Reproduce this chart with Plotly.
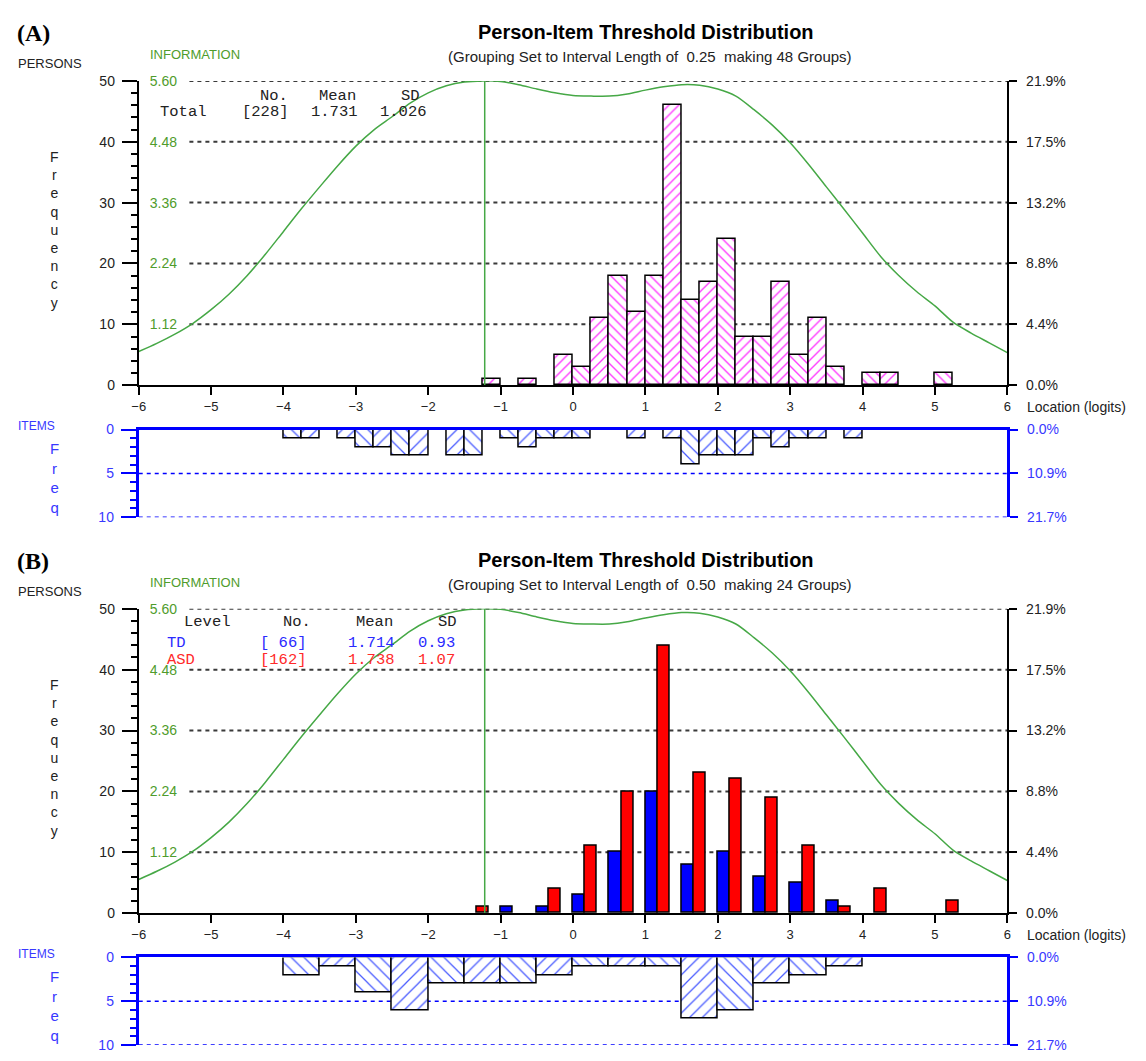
import plotly.graph_objects as go

W, H = 1146, 1061
B_SHIFT = 536  # vertical offset (px) of panel B below panel A

# ---------------- data ----------------
logit_ticks = list(range(-6, 7))
freq_ticks = [0, 10, 20, 30, 40, 50]
info_ticks = [1.12, 2.24, 3.36, 4.48, 5.60]
item_ticks = [0, 5, 10]
total_persons = 228
total_items = 46

# Test information function (logit, information)
info_logits = [-6.0, -5.75, -5.5, -5.25, -5.0, -4.75, -4.5, -4.25, -4.0, -3.75, -3.5, -3.25,
               -3.0, -2.75, -2.5, -2.25, -2.0, -1.75, -1.5, -1.25, -1.0, -0.75, -0.5, -0.25,
               0.0, 0.25, 0.5, 0.75, 1.0, 1.25, 1.5, 1.75, 2.0, 2.25, 2.5, 2.75, 3.0, 3.25,
               3.5, 3.75, 4.0, 4.25, 4.5, 4.75, 5.0, 5.25, 5.5, 5.75, 6.0]
info_values = [0.62, 0.77, 0.94, 1.14, 1.39, 1.68, 2.02, 2.41, 2.83, 3.25, 3.65, 4.04,
               4.40, 4.70, 4.94, 5.19, 5.38, 5.51, 5.58, 5.60, 5.59, 5.53, 5.45, 5.38,
               5.33, 5.32, 5.32, 5.36, 5.43, 5.49, 5.53, 5.52, 5.45, 5.32, 5.07, 4.79,
               4.46, 4.07, 3.65, 3.23, 2.80, 2.37, 2.02, 1.72, 1.46, 1.16, 0.96, 0.78, 0.60]
info_peak_logit = -1.22
info_max = 5.60

# Panel A: interval 0.25 (lower bin edges and counts)
a_bin_width = 0.25
a_person_bins = [-1.25, -0.75, -0.25, 0.0, 0.25, 0.5, 0.75, 1.0, 1.25, 1.5, 1.75, 2.0,
                 2.25, 2.5, 2.75, 3.0, 3.25, 3.5, 4.0, 4.25, 5.0]
a_person_counts = [1, 1, 5, 3, 11, 18, 12, 18, 46, 14, 17, 24,
                   8, 8, 17, 5, 11, 3, 2, 2, 2]
a_item_bins = [-4.0, -3.75, -3.25, -3.0, -2.75, -2.5, -2.25, -1.75, -1.5, -1.0, -0.75, -0.5,
               -0.25, 0.0, 0.75, 1.25, 1.5, 1.75, 2.0, 2.25, 2.5, 2.75, 3.0, 3.25, 3.75]
a_item_counts = [1, 1, 1, 2, 2, 3, 3, 3, 3, 1, 2, 1,
                 1, 1, 1, 1, 4, 3, 3, 3, 1, 2, 1, 1, 1]

# Panel B: interval 0.50, split by group
b_bin_width = 0.5
b_person_bins = [-1.5, -1.0, -0.5, 0.0, 0.5, 1.0, 1.5, 2.0, 2.5, 3.0, 3.5, 4.0, 4.5, 5.0]
b_td_counts = [0, 1, 1, 3, 10, 20, 8, 10, 6, 5, 2, 0, 0, 0]
b_asd_counts = [1, 0, 4, 11, 20, 44, 23, 22, 19, 11, 1, 4, 0, 2]
b_item_bins = [-4.0, -3.5, -3.0, -2.5, -2.0, -1.5, -1.0, -0.5, 0.0, 0.5, 1.0, 1.5,
               2.0, 2.5, 3.0, 3.5]
b_item_counts = [2, 1, 4, 6, 3, 3, 3, 2, 1, 1, 1, 7, 6, 3, 2, 1]

# ---------------- styling ----------------
FONT = "Liberation Sans, Arial, sans-serif"
MONO = "Liberation Mono, Courier New, monospace"
SERIF = "Liberation Serif, Times New Roman, serif"
INK = "#222222"
GREEN_LINE = "#46a846"
GREEN_TEXT = "#4f9c2c"
BLUE = "#0000ff"
BLUE_TEXT = "#3838ff"
MAGENTA = "#ff3cff"
RED = "#ff0000"


def px_x(x):
    return x / W


def px_y(y):
    return 1 - y / H


def ax(kind, i):
    return f"{kind}axis" + ("" if i == 1 else str(i))


def ref(kind, i):
    return kind + ("" if i == 1 else str(i))


def pct_labels(ticks, total):
    return [f"{100 * t / total:.1f}%" for t in ticks]


def hatch(bins, bw):
    return ["\\" if round((b + 6) / bw) % 2 == 0 else "/" for b in bins]


x_dom = [px_x(133), px_x(1010)]
grid_start = -5.3
tickfont = dict(family=FONT, size=13, color=INK)

layout_axes = {}
shapes = []
traces = []


def build_panel(xm, xi, yf, yp, yinfo, yi, yip, dy):
    main_dom = [px_y(383 + dy), px_y(74 + dy)]
    item_dom = [px_y(517 + dy), px_y(428 + dy)]
    layout_axes[ax("x", xm)] = dict(
        domain=x_dom, anchor=ref("y", yf), range=[-6, 6], tickmode="array",
        tickvals=logit_ticks, ticks="outside", ticklen=8, tickwidth=1.5, tickcolor="black",
        showline=True, linecolor="black", linewidth=2, showgrid=False, zeroline=False,
        tickfont=tickfont, ticklabeloverflow="allow")
    layout_axes[ax("y", yf)] = dict(
        domain=main_dom, anchor=ref("x", xm), range=[0, 50], tickmode="linear", tick0=0,
        dtick=10, ticks="outside", ticklen=15, tickwidth=2, tickcolor="black",
        showline=True, linecolor="black", linewidth=2, showgrid=False, zeroline=False,
        minor=dict(ticks="outside", ticklen=6, tickwidth=1.5, tickcolor="black",
                   tickmode="linear", tick0=0, dtick=2, showgrid=False),
        tickfont=dict(family=FONT, size=14, color=INK), ticklabelstandoff=4,
        ticklabeloverflow="allow")
    layout_axes[ax("y", yp)] = dict(
        overlaying=ref("y", yf), anchor=ref("x", xm), side="right", range=[0, 50],
        tickmode="array", tickvals=freq_ticks, ticktext=pct_labels(freq_ticks, total_persons),
        ticks="outside", ticklen=8, tickwidth=1.5, tickcolor="black", showline=True,
        linecolor="black", linewidth=2, showgrid=False, zeroline=False,
        tickfont=dict(family=FONT, size=14, color=INK), ticklabelstandoff=6,
        ticklabeloverflow="allow")
    layout_axes[ax("y", yinfo)] = dict(
        overlaying=ref("y", yf), anchor=ref("x", xm), side="left", range=[0, info_max],
        tickmode="array", tickvals=info_ticks, ticktext=[f"{v:.2f}" for v in info_ticks],
        ticks="", ticklabelposition="inside", showline=False, showgrid=False, zeroline=False,
        tickfont=dict(family=FONT, size=14, color=GREEN_TEXT), ticklabelstandoff=8,
        ticklabeloverflow="allow")
    layout_axes[ax("x", xi)] = dict(
        domain=x_dom, anchor=ref("y", yi), range=[-6, 6], side="top", showline=True,
        linecolor=BLUE, linewidth=3, ticks="", showticklabels=False, showgrid=False,
        zeroline=False)
    layout_axes[ax("y", yi)] = dict(
        domain=item_dom, anchor=ref("x", xi), range=[10, 0], tickmode="linear", tick0=0,
        dtick=5, ticks="outside", ticklen=15, tickwidth=2, tickcolor=BLUE, showline=True,
        linecolor=BLUE, linewidth=3, showgrid=False, zeroline=False,
        minor=dict(ticks="outside", ticklen=6, tickwidth=1.5, tickcolor=BLUE,
                   tickmode="linear", tick0=0, dtick=1, showgrid=False),
        tickfont=dict(family=FONT, size=14, color=BLUE_TEXT), ticklabelstandoff=4,
        ticklabeloverflow="allow")
    layout_axes[ax("y", yip)] = dict(
        overlaying=ref("y", yi), anchor=ref("x", xi), side="right", range=[10, 0],
        tickmode="array", tickvals=item_ticks, ticktext=pct_labels(item_ticks, total_items),
        ticks="outside", ticklen=8, tickwidth=2, tickcolor=BLUE, showline=True,
        linecolor=BLUE, linewidth=3, showgrid=False, zeroline=False,
        tickfont=dict(family=FONT, size=14, color=BLUE_TEXT), ticklabelstandoff=6,
        ticklabeloverflow="allow")

    # dashed frequency gridlines, starting right of the information labels
    for lvl in freq_ticks[1:]:
        shapes.append(dict(type="line", xref=ref("x", xm), yref=ref("y", yf),
                           x0=grid_start, x1=6, y0=lvl, y1=lvl, layer="below",
                           line=dict(color="#3a3a3a", width=2, dash="4px,4px")))
    # dashed item gridlines
    for lvl in item_ticks[1:]:
        shapes.append(dict(type="line", xref=ref("x", xi), yref=ref("y", yi),
                           x0=-6, x1=6, y0=lvl, y1=lvl, layer="below",
                           line=dict(color=BLUE, width=1.5, dash="4px,4px")))

    # information curve and its maximum
    traces.append(go.Scatter(x=info_logits, y=info_values, mode="lines",
                             line=dict(color=GREEN_LINE, width=1.5, shape="spline", smoothing=0.8),
                             xaxis=ref("x", xm), yaxis=ref("y", yinfo), hoverinfo="skip"))
    traces.append(go.Scatter(x=[info_peak_logit, info_peak_logit], y=[0, info_max], mode="lines",
                             line=dict(color=GREEN_LINE, width=1.5),
                             xaxis=ref("x", xm), yaxis=ref("y", yinfo), hoverinfo="skip"))
    # keep the percentage axes attached to their subplots
    traces.append(go.Scatter(x=[], y=[], xaxis=ref("x", xm), yaxis=ref("y", yp)))
    traces.append(go.Scatter(x=[], y=[], xaxis=ref("x", xi), yaxis=ref("y", yip)))


def item_bars(bins, counts, bw, xi, yi):
    traces.append(go.Bar(
        x=[b + bw / 2 for b in bins], y=counts, width=bw,
        xaxis=ref("x", xi), yaxis=ref("y", yi),
        marker=dict(color="white", line=dict(color="black", width=1.5),
                    pattern=dict(shape=hatch(bins, bw), fgcolor="#4a5cff", bgcolor="white",
                                 size=9, solidity=0.14, fillmode="replace"))))


# ---- Panel A ----
build_panel(1, 2, 1, 2, 3, 4, 5, 0)
traces.append(go.Bar(
    x=[b + a_bin_width / 2 for b in a_person_bins], y=a_person_counts, width=a_bin_width,
    xaxis="x", yaxis="y",
    marker=dict(color="white", line=dict(color="black", width=1.5),
                pattern=dict(shape=hatch(a_person_bins, a_bin_width), fgcolor=MAGENTA,
                             bgcolor="white", size=7, solidity=0.2, fillmode="replace"))))
item_bars(a_item_bins, a_item_counts, a_bin_width, 2, 4)

# ---- Panel B ----
build_panel(3, 4, 6, 7, 8, 9, 10, B_SHIFT)
td_bins = [b for b, c in zip(b_person_bins, b_td_counts) if c > 0]
td_vals = [c for c in b_td_counts if c > 0]
asd_bins = [b for b, c in zip(b_person_bins, b_asd_counts) if c > 0]
asd_vals = [c for c in b_asd_counts if c > 0]
traces.append(go.Bar(x=[b + b_bin_width / 6 for b in td_bins], y=td_vals, width=b_bin_width / 3,
                     xaxis="x3", yaxis="y6",
                     marker=dict(color=BLUE, line=dict(color="black", width=1.5))))
traces.append(go.Bar(x=[b + b_bin_width / 2 for b in asd_bins], y=asd_vals, width=b_bin_width / 3,
                     xaxis="x3", yaxis="y6",
                     marker=dict(color=RED, line=dict(color="black", width=1.5))))
item_bars(b_item_bins, b_item_counts, b_bin_width, 4, 9)


# ---------------- text ----------------
def label(text, x, y, size, color=INK, family=FONT, xanchor="left"):
    return dict(text=text, x=px_x(x), y=px_y(y), xref="paper", yref="paper",
                xanchor=xanchor, yanchor="middle", showarrow=False,
                font=dict(family=family, size=size, color=color))


annotations = []
panel_text = [
    ("(A)", 0, "0.25", "48",
     [("No.", 253, 89), ("Mean", 313, 89), ("SD", 396, 89),
      ("Total", 152, 106), ("[228]", 235, 106), ("1.731", 305, 106), ("1.026", 375, 106)],
     [INK] * 7),
    ("(B)", B_SHIFT, "0.50", "24",
     [("Level", 177, 623 - B_SHIFT), ("No.", 277, 623 - B_SHIFT), ("Mean", 350, 623 - B_SHIFT),
      ("SD", 433, 623 - B_SHIFT),
      ("TD", 160, 645 - B_SHIFT), ("[ 66]", 253, 645 - B_SHIFT), ("1.714", 342, 645 - B_SHIFT),
      ("0.93", 413, 645 - B_SHIFT),
      ("ASD", 160, 662 - B_SHIFT), ("[162]", 253, 662 - B_SHIFT), ("1.738", 342, 662 - B_SHIFT),
      ("1.07", 413, 662 - B_SHIFT)],
     [INK] * 4 + ["#2a2aff"] * 4 + ["#ff2a2a"] * 4),
]
for tag, dy, interval, groups, stats, colors in panel_text:
    annotations.append(label(f"<b>{tag}</b>", 8, 25 + dy, 24, "black", SERIF))
    annotations.append(label("<b>Person-Item Threshold Distribution</b>", 645, 24 + dy, 20,
                             "black", FONT, "center"))
    annotations.append(label(f"(Grouping Set to Interval Length of  {interval}  making {groups} Groups)",
                             649, 49 + dy, 15, INK, FONT, "center"))
    annotations.append(label("PERSONS", 9, 56 + dy, 13, INK))
    annotations.append(label("INFORMATION", 142, 47 + dy, 13, GREEN_TEXT))
    annotations.append(label("F<br>r<br>e<br>q<br>u<br>e<br>n<br>c<br>y", 48, 225 + dy, 14,
                             INK, FONT, "center"))
    annotations.append(label("Location (logits)", 1028, 405 + dy, 14, INK))
    annotations.append(label("ITEMS", 9, 424 + dy, 12, BLUE_TEXT))
    annotations.append(label("F<br>r<br>e<br>q", 48, 477 + dy, 15, BLUE_TEXT, FONT, "center"))
    for (txt, x, y), col in zip(stats, colors):
        annotations.append(label(txt.replace(" ", "&nbsp;"), x, y + dy, 15.5, col, MONO))

fig = go.Figure(data=traces)
fig.update_layout(
    width=W, height=H, margin=dict(l=0, r=0, t=0, b=0),
    paper_bgcolor="white", plot_bgcolor="white",
    showlegend=False, barmode="overlay", bargap=0,
    shapes=shapes, annotations=annotations,
    **layout_axes,
)
fig.write_html("out.html")
